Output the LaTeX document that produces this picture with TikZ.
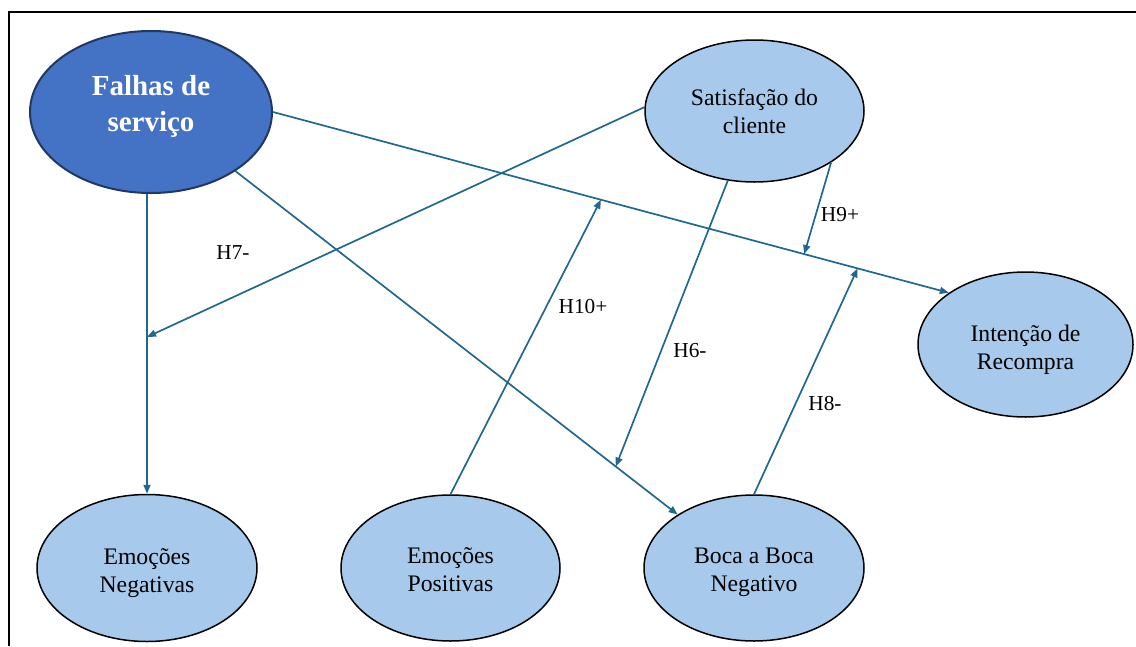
\documentclass[tikz,border=0pt]{standalone}
\usepackage{fontspec}
\setmainfont{Liberation Serif}
\usetikzlibrary{shapes.geometric,arrows.meta,calc}
\definecolor{darkfill}{HTML}{4472C4}
\definecolor{darkedge}{HTML}{1F3864}
\definecolor{lightfill}{HTML}{A7C9EB}
\definecolor{linkcol}{HTML}{20698E}
\newcommand\shiftedtext[2]{\raisebox{#1}[\height][\depth]{\begin{tabular}{@{}c@{}}#2\end{tabular}}}
\tikzset{
  construct/.style={ellipse, draw=black, line width=1.5pt, fill=lightfill, inner sep=0pt,
    align=center, font=\fontsize{23.7}{28}\selectfont},
  mainconstruct/.style={ellipse, draw=darkedge, line width=2pt, fill=darkfill, inner sep=0pt,
    align=center, text=white, font=\fontsize{29}{36}\selectfont\bfseries},
  link/.style={draw=linkcol, line width=1.7pt, -{Triangle[length=9pt,width=7pt]}},
  hyp/.style={font=\fontsize{21.3}{25}\selectfont, inner sep=0pt},
  frameline/.style={draw=black, line width=1.8pt}
}
\begin{document}
\begin{tikzpicture}[x=1pt,y=-1pt]
\useasboundingbox (0,0) rectangle (1136,646);
\draw[frameline] (9,646) -- (9,12) -- (1136,12);

\node[mainconstruct, minimum width=242pt, minimum height=162pt] (falhas) at (151,112) {\shiftedtext{6pt}{Falhas de\\servi\c{c}o}};
\node[construct, minimum width=219pt, minimum height=142pt] (sat) at (754.5,111) {\shiftedtext{-2.5pt}{Satisfa\c{c}\~ao do\\cliente}};
\node[construct, minimum width=215pt, minimum height=145pt] (int) at (1025.5,344.5) {\shiftedtext{-5pt}{Inten\c{c}\~ao de\\Recompra}};
\node[construct, minimum width=220pt, minimum height=147pt] (en) at (147,568) {\shiftedtext{-4.5pt}{Emo\c{c}\~oes\\Negativas}};
\node[construct, minimum width=219pt, minimum height=146pt] (ep) at (450.5,568) {\shiftedtext{-3.5pt}{Emo\c{c}\~oes\\Positivas}};
\node[construct, minimum width=220pt, minimum height=146pt] (boca) at (754,568) {\shiftedtext{-4pt}{Boca a Boca\\Negativo}};

% main paths
\coordinate (fs) at (falhas.south -| en.north);
\draw[link] (fs) -- (en.north);
\draw[link] (falhas.east) -- (int.146);
\draw[link] (falhas.325) -- (boca.145);

% moderation targets on the main paths
\coordinate (t7) at ($(fs)!0.477!(en.north)$);
\coordinate (t10) at ($(falhas.east)!0.4852!(int.146)$);
\coordinate (t9) at ($(falhas.east)!0.786!(int.146)$);
\coordinate (t8) at ($(falhas.east)!0.865!(int.146)$);
\coordinate (t6) at ($(falhas.325)!0.86!(boca.145)$);

\draw[link] (sat.178) -- (t7);
\draw[link] (ep.north) -- (t10);
\draw[link] (sat.249) -- (t6);
\draw[link] (sat.326) -- (t9);
\draw[link] (boca.north) -- (t8);

% labels
\node[hyp] (h7) at (233,253) {H7-};
\node[hyp] (h10) at (583,307) {H10+};
\node[hyp] (h6) at (690,351) {H6-};
\node[hyp] (h9) at (840,215) {H9+};
\node[hyp] (h8) at (825,404) {H8-};
\end{tikzpicture}
\end{document}
